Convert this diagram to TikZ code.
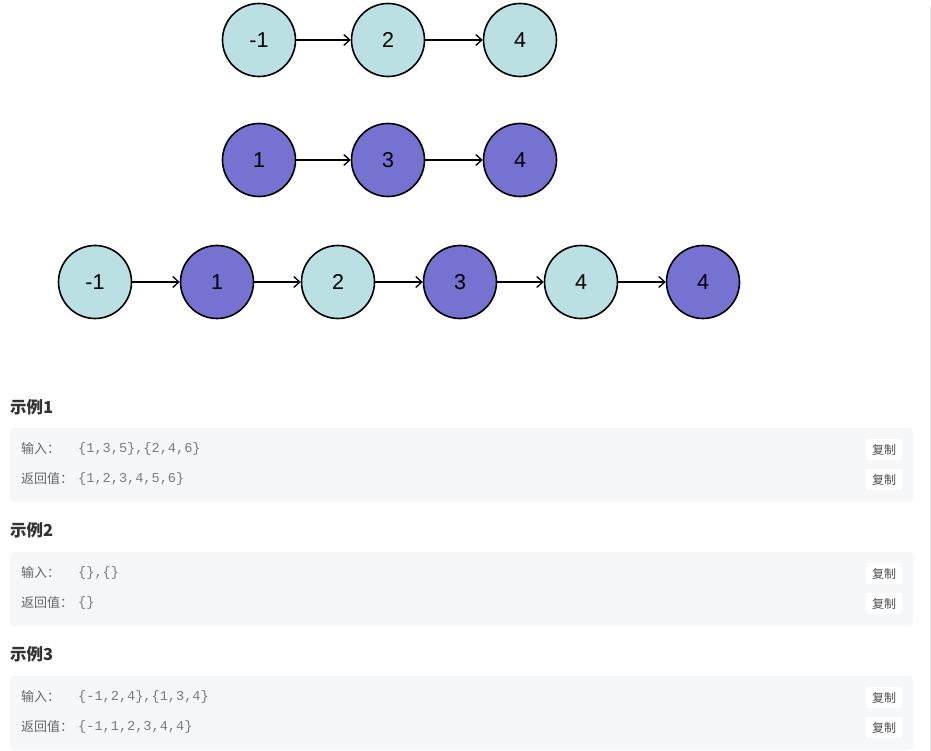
\documentclass[tikz,border=0pt]{standalone}
\usepackage{fontspec}
\usepackage{tikz}
\usetikzlibrary{positioning,arrows.meta}
\usepackage{xcolor}
\setmainfont{Liberation Sans}
\newfontfamily\cjk{Noto Sans CJK SC}
\newfontfamily\codefont{Liberation Mono}
\definecolor{tealc}{HTML}{BAE0E3}
\definecolor{purplec}{HTML}{7672D1}
\definecolor{boxbg}{HTML}{F6F7F9}
\definecolor{labelc}{HTML}{666666}
\definecolor{codec}{HTML}{7A7A7A}

\begin{document}
\begin{tikzpicture}[x=1pt,y=-1pt,
  ln/.style={circle,draw=black,line width=1.6pt,minimum size=73pt,inner sep=0pt,font=\fontsize{21.5}{21.5}\selectfont},
  lt/.style={ln,fill=tealc},
  lp/.style={ln,fill=purplec},
  nx/.style={-{Straight Barb[length=6pt,width=11pt,line width=1.3pt]},line width=1.3pt},
  hd/.style={anchor=west,inner sep=0pt,text=black!80,font=\cjk\bfseries\fontsize{16.5}{16.5}\selectfont},
  lb/.style={anchor=west,inner sep=0pt,text=labelc,font=\cjk\fontsize{13}{13}\selectfont},
  cd/.style={anchor=west,inner sep=0pt,text=codec,font=\codefont\fontsize{13.6}{13.6}\selectfont},
  btn/.style={fill=white,rounded corners=2pt,minimum width=36pt,minimum height=21pt,inner sep=0pt,text=black!70,font=\cjk\fontsize{12}{12}\selectfont}]
\useasboundingbox (0,0) rectangle (931,751);
\fill[white] (0,0) rectangle (931,751);
\draw[black!10,line width=1pt] (930,6)--(930,751);

% first list
\node[lt] (a1) at (259,40) {-1};
\node[lt] (a2) at (388,40) {2};
\node[lt] (a3) at (520,40) {4};
\draw[nx] (a1)--(a2);
\draw[nx] (a2)--(a3);

% second list
\node[lp] (b1) at (259,160) {1};
\node[lp] (b2) at (388,160) {3};
\node[lp] (b3) at (520,160) {4};
\draw[nx] (b1)--(b2);
\draw[nx] (b2)--(b3);

% merged
\node[lt] (m1) at (95,282) {-1};
\node[lp] (m2) at (217,282) {1};
\node[lt] (m3) at (338,282) {2};
\node[lp] (m4) at (460,282) {3};
\node[lt] (m5) at (581,282) {4};
\node[lp] (m6) at (703,282) {4};
\foreach \i [evaluate=\i as \j using int(\i+1)] in {1,...,5}
  \draw[nx] (m\i)--(m\j);

% examples
\foreach \s in {0,1,2}{
  \fill[boxbg,rounded corners=4pt] (10,428+124*\s) rectangle (913,502+124*\s);
  \node[btn] (c\s a) at (884,449.5+124*\s) {复制};
  \node[btn] (c\s b) at (884,479.5+124*\s) {复制};
}

\node[hd] (h1) at (10,407) {示例1};
\node[lb] (i1) at (21,449) {输入：};
\node[cd] (ic1) at (78,449) {\{1,3,5\},\{2,4,6\}};
\node[lb] (o1) at (21,479) {返回值：};
\node[cd] (oc1) at (78,479) {\{1,2,3,4,5,6\}};

\node[hd] (h2) at (10,530) {示例2};
\node[lb] (i2) at (21,573) {输入：};
\node[cd] (ic2) at (78,573) {\{\},\{\}};
\node[lb] (o2) at (21,603) {返回值：};
\node[cd] (oc2) at (78,603) {\{\}};

\node[hd] (h3) at (10,654) {示例3};
\node[lb] (i3) at (21,697) {输入：};
\node[cd] (ic3) at (78,697) {\{-1,2,4\},\{1,3,4\}};
\node[lb] (o3) at (21,727) {返回值：};
\node[cd] (oc3) at (78,727) {\{-1,1,2,3,4,4\}};
\end{tikzpicture}
\end{document}
